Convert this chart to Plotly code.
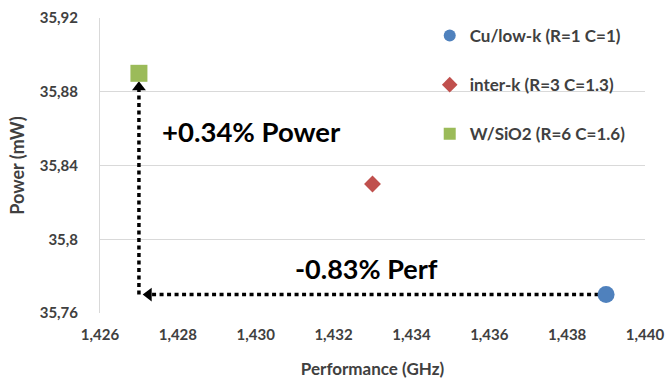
import plotly.graph_objects as go

# Data
series_names = ["Cu/low-k (R=1 C=1)", "inter-k (R=3 C=1.3)", "W/SiO2 (R=6 C=1.6)"]
perf_ghz = [1.439, 1.433, 1.427]
power_mw = [35.77, 35.83, 35.89]
colors = ["#4F81BD", "#C0504D", "#9BBB59"]
symbols = ["circle", "diamond", "square"]
sizes = [17, 13, 17]

x_tick_vals = [1.426, 1.428, 1.430, 1.432, 1.434, 1.436, 1.438, 1.440]
x_tick_text = ["1,426", "1,428", "1,430", "1,432", "1,434", "1,436", "1,438", "1,440"]
y_tick_vals = [35.76, 35.80, 35.84, 35.88, 35.92]
y_tick_text = ["35,76", "35,8", "35,84", "35,88", "35,92"]

power_label = "+0.34% Power"
perf_label = "-0.83% Perf"

FONT = "Lato"
TXT = "#404040"

fig = go.Figure()

# Dotted arrows (behind markers)
corner_x = perf_ghz[2]
corner_y = power_mw[0]
fig.add_trace(go.Scatter(
    x=[perf_ghz[0], corner_x + 0.0003], y=[corner_y, corner_y], mode="lines",
    line=dict(color="black", width=3.5, dash="4px,3.5px"), showlegend=False, hoverinfo="skip"))
fig.add_trace(go.Scatter(
    x=[corner_x, corner_x], y=[corner_y, power_mw[2] - 0.008], mode="lines",
    line=dict(color="black", width=3.5, dash="4px,3.5px"), showlegend=False, hoverinfo="skip"))
fig.add_trace(go.Scatter(
    x=[corner_x + 0.00025], y=[corner_y], mode="markers",
    marker=dict(symbol="triangle-left", size=12, color="black"), showlegend=False, hoverinfo="skip"))
fig.add_trace(go.Scatter(
    x=[corner_x], y=[power_mw[2] - 0.0075], mode="markers",
    marker=dict(symbol="triangle-up", size=12, color="black"), showlegend=False, hoverinfo="skip"))

for i in range(3):
    fig.add_trace(go.Scatter(
        x=[perf_ghz[i]], y=[power_mw[i]], mode="markers", name=series_names[i],
        legendgroup=f"g{i}",
        marker=dict(symbol=symbols[i], size=sizes[i], color=colors[i]),
    ))

fig.add_annotation(x=1.4299, y=35.8586, text=power_label, showarrow=False,
                   font=dict(family=FONT, size=27.5, color="black", weight="bold"))
fig.add_annotation(x=1.43285, y=35.7843, text=perf_label, showarrow=False,
                   font=dict(family=FONT, size=27, color="black", weight="bold"))

fig.update_layout(
    width=670, height=385,
    margin=dict(l=100, r=25, t=18, b=72),
    paper_bgcolor="white", plot_bgcolor="white",
    font=dict(family=FONT, color=TXT, size=15, weight="bold"),
    legend=dict(x=0.605, y=1.0, xanchor="left", yanchor="top",
                tracegroupgap=24, bgcolor="rgba(0,0,0,0)",
                font=dict(family=FONT, size=17, color=TXT, weight="bold"),
                itemsizing="constant", itemwidth=30),
    xaxis=dict(range=[1.426, 1.440], tickvals=x_tick_vals, ticktext=x_tick_text,
               showgrid=False, zeroline=False, showline=False, automargin=False,
               ticklabelstandoff=11, ticklabeloverflow="allow",
               title=dict(text="Performance (GHz)", font=dict(size=17, color=TXT, weight="bold"), standoff=21),
               tickfont=dict(size=15, color=TXT, weight="bold")),
    yaxis=dict(range=[35.76, 35.92], tickvals=y_tick_vals, ticktext=y_tick_text,
               showgrid=True, gridcolor="#D9D9D9", gridwidth=1, zeroline=False,
               showline=True, linecolor="#D9D9D9", linewidth=1, automargin=False,
               ticklabelstandoff=18, ticklabeloverflow="allow",
               title=dict(text="Power (mW)", font=dict(size=18, color=TXT, weight="bold"), standoff=10),
               tickfont=dict(size=15, color=TXT, weight="bold")),
)

fig.write_html("out.html", config={"displayModeBar": False},
               post_script="document.body.style.margin='0px';document.body.style.overflow='hidden';")
